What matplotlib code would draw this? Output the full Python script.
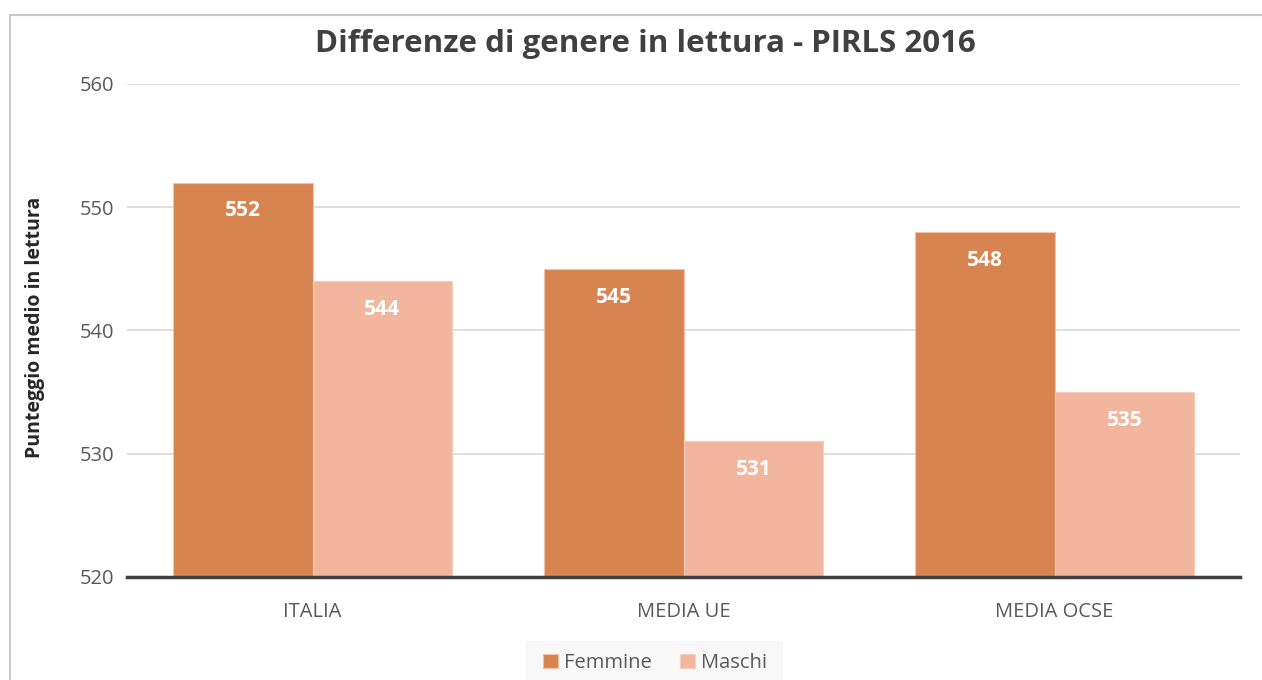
import matplotlib.pyplot as plt
import numpy as np
from matplotlib.patches import Rectangle

categories = ['ITALIA', 'MEDIA UE', 'MEDIA OCSE']
femmine = [552, 545, 548]
maschi = [544, 531, 535]
yticks = [520, 530, 540, 550, 560]

plt.rcParams['font.family'] = ['Open Sans', 'DejaVu Sans']

W, H = 1262, 680
fig = plt.figure(figsize=(W / 100, H / 100), dpi=100)
ax = fig.add_axes([127 / W, 1 - 577 / H, (1240 - 127) / W, (577 - 84) / H])

# chart border (cut off at right and bottom, like the screenshot)
fig.patches.append(Rectangle((10 / W, -0.05), 1.1, 1 - 15 / H + 0.05,
                             transform=fig.transFigure, fill=False,
                             edgecolor='#c8c8c8', linewidth=1.5, zorder=-1))
# light legend background
fig.patches.append(Rectangle((526 / W, 0), (783 - 526) / W, (680 - 641) / H,
                             transform=fig.transFigure, facecolor='#f8f8f8',
                             edgecolor='none', zorder=-1))

x = np.arange(len(categories))
w = 0.377
c_f = '#D7804A'
c_m = '#F2B49B'

bars_f = ax.bar(x - w / 2, femmine, w, color=c_f, alpha=0.97,
                edgecolor='#f3c2a8', linewidth=0.8, label='Femmine', zorder=3)
bars_m = ax.bar(x + w / 2, maschi, w, color=c_m, alpha=0.97,
                edgecolor='#f6cdbb', linewidth=0.8, label='Maschi', zorder=3)

for bars, vals in ((bars_f, femmine), (bars_m, maschi)):
    for b, v in zip(bars, vals):
        ax.text(b.get_x() + b.get_width() / 2, v - 2.3, str(v),
                ha='center', va='center', color='white', fontsize=15,
                fontweight='bold', zorder=4)

ax.set_ylim(520, 560)
ax.set_xlim(-0.5, 2.5)
ax.set_yticks(yticks)
ax.set_xticks(x)
ax.set_xticklabels(categories)
ax.grid(axis='y', color='#d9d9d9', linewidth=1.2, zorder=0)
ax.tick_params(axis='both', length=0, labelsize=14.5, colors='#595959')
ax.tick_params(axis='x', pad=18)
ax.tick_params(axis='y', pad=9)
for s in ['top', 'right', 'left']:
    ax.spines[s].set_visible(False)
ax.spines['bottom'].set_color('#404040')
ax.spines['bottom'].set_linewidth(2.5)
ax.spines['bottom'].set_zorder(5)

fig.text(35 / W, 1 - 327 / H, 'Punteggio medio in lettura', rotation=90,
         ha='center', va='center', fontsize=14, fontweight='bold', color='#262626')

fig.text(645 / W, 1 - 44 / H, 'Differenze di genere in lettura - PIRLS 2016',
         ha='center', va='center', fontsize=22.5, fontweight='bold', color='#404040')

fig.legend(handles=[bars_f, bars_m], labels=['Femmine', 'Maschi'],
           loc='center', bbox_to_anchor=(655 / W, 1 - 663 / H),
           ncol=2, frameon=False, fontsize=14.5,
           handlelength=0.75, handleheight=0.75,
           handletextpad=0.3, columnspacing=1.4, labelcolor='#595959')

fig.savefig('out.png', dpi=100)
